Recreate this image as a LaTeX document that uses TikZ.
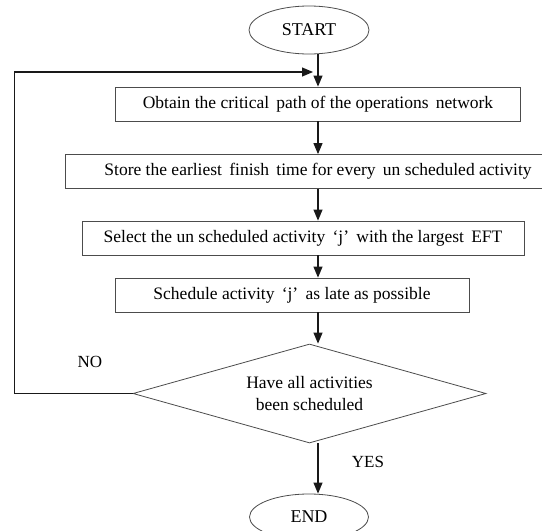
\documentclass[tikz,border=0pt]{standalone}
\usepackage{fontspec}
\setmainfont{Liberation Serif}
\usetikzlibrary{shapes.geometric,arrows.meta}

\tikzset{
  stepbox/.style={draw=black!70, line width=0.8pt, minimum height=34pt, inner sep=0pt, font=\fontsize{17.5}{20}\selectfont},
  term/.style={draw=black!70, ellipse, line width=0.8pt, minimum width=120pt, minimum height=48pt, inner sep=0pt, font=\fontsize{18}{21}\selectfont},
  arr/.style={-{Triangle[length=11pt,width=9pt]}, line width=1.1pt, black!90}
}

\begin{document}
\begin{tikzpicture}[x=1pt,y=-1pt]
		\useasboundingbox (0,0) rectangle (542,531);
		\node[term] (start) at (309,30) {START};
		\node[stepbox, minimum width=405pt] (b1) at (318,104) {Obtain the critical\, path of the operations\, network};
		\node[stepbox, minimum width=506pt] (b2) at (318,171.5) {Store the earliest\, finish\, time for every\, un scheduled activity};
		\node[stepbox, minimum width=442pt] (b3) at (303,238) {Select the un scheduled activity\, `j'\, with the largest\, EFT};
		\node[stepbox, minimum width=354pt] (b4) at (292,295) {Schedule activity\, `j'\, as late as possible};
		\node[draw=black!70, diamond, aspect=3.57, line width=0.8pt, minimum width=353pt, minimum height=99pt, inner sep=0pt, align=center, font=\fontsize{17.5}{21.5}\selectfont] (dec) at (309.5,393.5) {Have all activities\\been scheduled};
		\node[term, minimum width=119pt, minimum height=46pt] (end) at (309,517) {END};
		\coordinate (ax) at (318,0);
		\coordinate (join) at (313,72);
		\coordinate (lft) at (14.5,72);
		\draw[arr] (start.south -| ax) -- (b1.north -| ax);
		\draw[arr] (b1.south -| ax) -- (b2.north -| ax);
		\draw[arr] (b2.south -| ax) -- (b3.north -| ax);
		\draw[arr] (b3.south -| ax) -- (b4.north -| ax);
		\draw[arr] (b4.south -| ax) -- (dec.north -| ax);
		\draw[arr] (dec.south -| ax) -- (end.north -| ax);
		\draw[arr] (dec.west) -| (lft) -- (join);
		\node[font=\fontsize{17}{20}\selectfont] (no) at (90,362) {NO};
		\node[font=\fontsize{17}{20}\selectfont] (yes) at (368,462) {YES};
	\end{tikzpicture}
\end{document}
